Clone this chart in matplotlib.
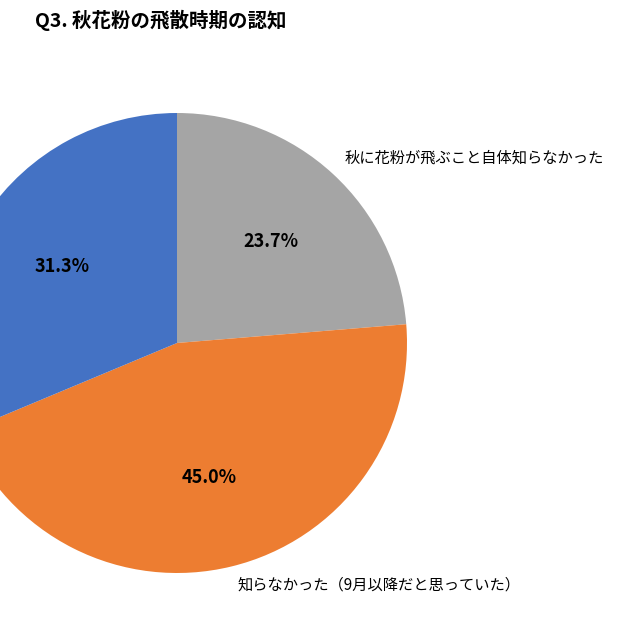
import matplotlib
matplotlib.use("Agg")
import matplotlib.pyplot as plt

plt.rcParams['font.family'] = ['Noto Sans CJK JP', 'DejaVu Sans']

labels = ["秋に花粉が飛ぶこと自体知らなかった", "知らなかった（9月以降だと思っていた）", "知っていた"]
values = [23.7, 45.0, 31.3]
colors = ["#a5a5a5", "#ed7d31", "#4472c4"]

fig = plt.figure(figsize=(6.4, 6.4), dpi=100)
ax = fig.add_axes([(177 - 230) / 640, (297 - 230) / 640, 460 / 640, 460 / 640])
ax.pie(values, colors=colors, startangle=90, counterclock=False,
       autopct=lambda p: f"{p:.1f}%", pctdistance=0.6,
       textprops=dict(fontsize=13, fontweight='bold', color='black'))
ax.set_xlim(-1, 1); ax.set_ylim(-1, 1); ax.set_aspect('equal')

fig.text(35 / 640, 1 - 20 / 640, "Q3. 秋花粉の飛散時期の認知", fontsize=14, fontweight='bold', va='center')
fig.text(345 / 640, 1 - 158 / 640, labels[0], fontsize=11, va='center')
fig.text(237 / 640, 1 - 585 / 640, labels[1], fontsize=11, va='center')
fig.savefig("out.png", dpi=100)
